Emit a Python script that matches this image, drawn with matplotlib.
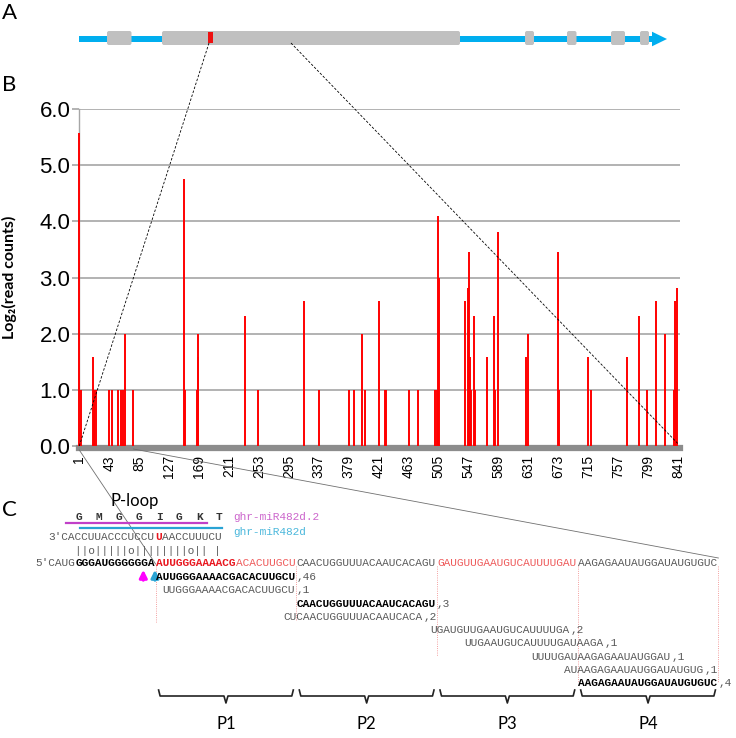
import numpy as np
import matplotlib.pyplot as plt
from matplotlib.patches import FancyBboxPatch, Polygon, Rectangle

plt.rcParams['font.family'] = ['Liberation Sans', 'DejaVu Sans']

# ---------------- panel B data : read start position vs log2(read counts)
pos = [1, 3, 20, 21, 22, 24, 42, 47, 56, 59, 62, 65, 77, 148, 149, 166, 167, 168,
       233, 251, 316, 337, 379, 386, 397, 402, 421, 430, 431, 463, 476,
       500, 502, 504, 505, 542, 546, 547, 549, 551, 554, 556, 573, 582, 584, 588,
       628, 630, 673, 674, 714, 719, 769, 786, 797, 810, 822, 835, 836, 838, 839]
logc = [5.57, 1.0, 1.58, 1.0, 1.0, 1.0, 1.0, 1.0, 1.0, 1.0, 1.0, 2.0, 1.0, 4.75, 1.0, 1.0, 1.58, 2.0,
        2.32, 1.0, 2.58, 1.0, 1.0, 1.0, 2.0, 1.0, 2.58, 1.0, 1.0, 1.0, 1.0,
        1.0, 1.0, 4.09, 3.0, 2.58, 2.81, 3.46, 1.58, 1.0, 2.32, 1.0, 1.58, 2.32, 1.0, 3.81,
        1.58, 2.0, 3.46, 1.0, 1.58, 1.0, 1.58, 2.32, 1.0, 2.58, 2.0, 1.0, 2.58, 1.0, 2.81]
xticks = list(range(1, 842, 42))
yticks = [0, 1, 2, 3, 4, 5, 6]

# ---------------- panel A data : gene model (schematic, pixel units)
gene_span = (79, 652)
exons = [(107, 131.5), (162, 460), (525, 534), (567, 576.5), (611, 625), (640, 649)]
ploop_mark = (208, 212.7)

# ---------------- panel C data : sequences
seq5 = [("5'CAUG", 'plain'), ("GGGAUGGGGGGA", 'bold'), ("AUUGGGAAAACG", 'redbold'),
        ("ACACUUGCU", 'red'), ("CAACUGGUUUACAAUCACAGU", 'plain'),
        ("GAUGUUGAAUGUCAUUUUGAU", 'red'), ("AAGAGAAUAUGGAUAUGUGUC", 'plain')]
mirna = [("3'CACCUUACCCUCCU", 'plain'), ("U", 'redbold'), ("AACCUUUCU", 'plain')]
mirna_off = 2
pairing = "||o|||||o||||||||o|| |"
pair_off = 6
peptide = ['G', 'M', 'G', 'G', 'I', 'G', 'K', 'T']
pep_off = 6
mir_names = ['ghr-miR482d.2', 'ghr-miR482d']
mir_spans = [(4.6, 25.7), (6.7, 27.9)]
reads = [(18, "AUUGGGAAAACGACACUUGCU", 46, True),
         (19, "UUGGGAAAACGACACUUGCU", 1, False),
         (39, "CAACUGGUUUACAAUCACAGU", 3, True),
         (37, "CUCAACUGGUUUACAAUCACA", 2, False),
         (59, "UGAUGUUGAAUGUCAUUUUGA", 2, False),
         (64, "UUGAAUGUCAUUUUGAUAAGA", 1, False),
         (74, "UUUUGAUAAGAGAAUAUGGAU", 1, False),
         (79, "AUAAGAGAAUAUGGAUAUGUG", 1, False),
         (81, "AAGAGAAUAUGGAUAUGUGUC", 4, True)]
phased = ['P1', 'P2', 'P3', 'P4']
phase_start = 18
phase_len = 21
cut_idx = [18, 39, 60, 81, 102]
cut_bottom = [622, 621, 656, 682, 682]

W, H = 736, 738
fig = plt.figure(figsize=(W / 100, H / 100), dpi=100)

# panel B axes (pixel box: x 78.7-679.7, y 109-446)
L, R, T, B = 78.7, 679.7, 109, 446
ax = fig.add_axes([L / W, 1 - B / H, (R - L) / W, (B - T) / H])
xmin, xmax = 0.2, 843
ax.vlines(pos, 0, logc, color='#ff0000', lw=1.4, zorder=5, clip_on=False)
ax.set_xlim(xmin, xmax)
ax.set_ylim(0, 6)
ax.set_yticks(yticks)
ax.set_yticklabels(['%.1f' % v for v in yticks], fontsize=16)
ax.set_xticks(xticks)
ax.set_xticklabels([str(v) for v in xticks], fontsize=14)
ax.grid(axis='y', color='#a6a6a6', lw=1.2)
ax.set_axisbelow(True)
for s in ['top', 'right']:
    ax.spines[s].set_visible(False)
ax.spines['left'].set_color('#a6a6a6')
ax.spines['left'].set_linewidth(1.0)
ax.spines['bottom'].set_color('#8c8c8c')
ax.spines['bottom'].set_linewidth(4.5)
ax.spines['bottom'].set_position(('outward', 1.5))
ax.tick_params(axis='y', length=5, width=1.2, color='#a6a6a6', pad=1)
ax.tick_params(axis='x', length=0, pad=5, labelrotation=90)
ax.set_ylabel('Log\u2082(read counts)', fontfamily=['Lato', 'DejaVu Sans'],
              fontweight='bold', fontsize=11.5)
ax.yaxis.set_label_coords(-(L - 17) / (R - L), 0.5)


def pos_px(p):
    return L + (p - xmin) / (xmax - xmin) * (R - L)


# overlay in pixel coordinates for panels A and C
ov = fig.add_axes([0, 0, 1, 1], zorder=5)
ov.set_xlim(0, W)
ov.set_ylim(H, 0)
ov.axis('off')
ov.patch.set_alpha(0)

lab = dict(fontfamily=['Lato', 'DejaVu Sans'], fontsize=16, ha='center', va='center')
ov.text(10, 13, 'A', **lab)
ov.text(9, 85, 'B', **lab)
ov.text(9, 510, 'C', **lab)

# panel A gene model
ov.add_patch(Rectangle((gene_span[0], 36), gene_span[1] - gene_span[0], 6,
                       color='#00aeef', lw=0))
ov.add_patch(Polygon([(gene_span[1], 31.7), (gene_span[1] + 15, 39),
                      (gene_span[1], 46.3)], color='#00aeef', lw=0))
for a, b in exons:
    ov.add_patch(FancyBboxPatch((a, 31), b - a, 14, boxstyle='round,pad=0,rounding_size=2',
                                fc='#c0c0c0', ec='none'))
ov.add_patch(Rectangle((ploop_mark[0], 32.3), ploop_mark[1] - ploop_mark[0], 10.5,
                       color='#ee1111', lw=0))

# zoom lines A -> B
ov.plot([209, pos_px(1)], [43, 446], ls=(0, (3, 2)), color='black', lw=0.6)
ov.plot([291, pos_px(841)], [43, 444], ls=(0, (3, 2)), color='black', lw=0.6)

# panel C
cw = 6.7
x0 = 35
mono = 8.04
style = {'plain': dict(color='#595959'),
         'bold': dict(color='black', fontweight='bold'),
         'redbold': dict(color='#e8171f', fontweight='bold'),
         'red': dict(color='#ee5a5a')}


def put(idx, txt, y, st='plain'):
    ov.text(x0 + idx * cw, y, txt, ha='left', va='center', fontfamily='Liberation Mono',
            fontsize=mono, **style[st])


def put_segments(segs, off, y):
    i = off
    for txt, st in segs:
        put(i, txt, y, st)
        i += len(txt)


# zoom lines B -> C
ov.plot([pos_px(1), x0 + 18 * cw], [450, 564], color='#707070', lw=0.6)
ov.plot([pos_px(77), x0 + 102 * cw], [449, 558], color='#707070', lw=0.6)

ov.text(135, 501, 'P-loop', fontfamily=['Lato', 'DejaVu Sans'], fontsize=12,
        ha='center', va='center')
for k, aa in enumerate(peptide):
    ov.text(x0 + (pep_off + 3 * k + 0.5) * cw, 517, aa, ha='center', va='center',
            fontfamily='Liberation Mono', fontsize=mono, fontweight='bold', color='#333333')
ov.text(233, 517, mir_names[0], ha='left', va='center', fontfamily='Liberation Mono',
        fontsize=mono, color='#cc66cc')
ov.text(233, 532, mir_names[1], ha='left', va='center', fontfamily='Liberation Mono',
        fontsize=mono, color='#4cb8dc')
ov.plot([x0 + mir_spans[0][0] * cw, x0 + mir_spans[0][1] * cw], [523, 523],
        color='#c040c8', lw=1.6)
ov.plot([x0 + mir_spans[1][0] * cw, x0 + mir_spans[1][1] * cw], [528, 528],
        color='#29a3d4', lw=1.6)

put_segments(mirna, mirna_off, 537)
put(pair_off, pairing, 551)
put_segments(seq5, 0, 563)

# cleavage arrows
ov.annotate('', xy=(143.3, 567), xytext=(143.3, 583),
            arrowprops=dict(arrowstyle='-|>', color='#ff00ff', lw=2.2, mutation_scale=11))
ov.annotate('', xy=(155, 567), xytext=(155, 583),
            arrowprops=dict(arrowstyle='-|>', color='#29a3d4', lw=2.2, mutation_scale=11))

# phase boundaries
for ci, yb in zip(cut_idx, cut_bottom):
    ov.plot([x0 + ci * cw, x0 + ci * cw], [566, yb], color='#f08080', lw=0.6, ls=':')

row_y = 577
for s, txt, n, bold in reads:
    put(s, txt, row_y, 'bold' if bold else 'plain')
    put(s + len(txt), ',%d' % n, row_y, 'plain')
    row_y += 13.3

# brackets and phase labels
for k, name in enumerate(phased):
    a = x0 + (phase_start + k * phase_len) * cw + 3
    b = x0 + (phase_start + (k + 1) * phase_len) * cw - 3
    m = (a + b) / 2
    ov.plot([a, a + 1.5, m - 2, m, m + 2, b - 1.5, b],
            [690, 696, 696, 703, 696, 696, 690], color='#222222', lw=1.2)
    ov.text(m, 724, name, fontfamily=['Lato', 'DejaVu Sans'], fontsize=12,
            ha='center', va='center')

plt.savefig('out.png', dpi=100)
